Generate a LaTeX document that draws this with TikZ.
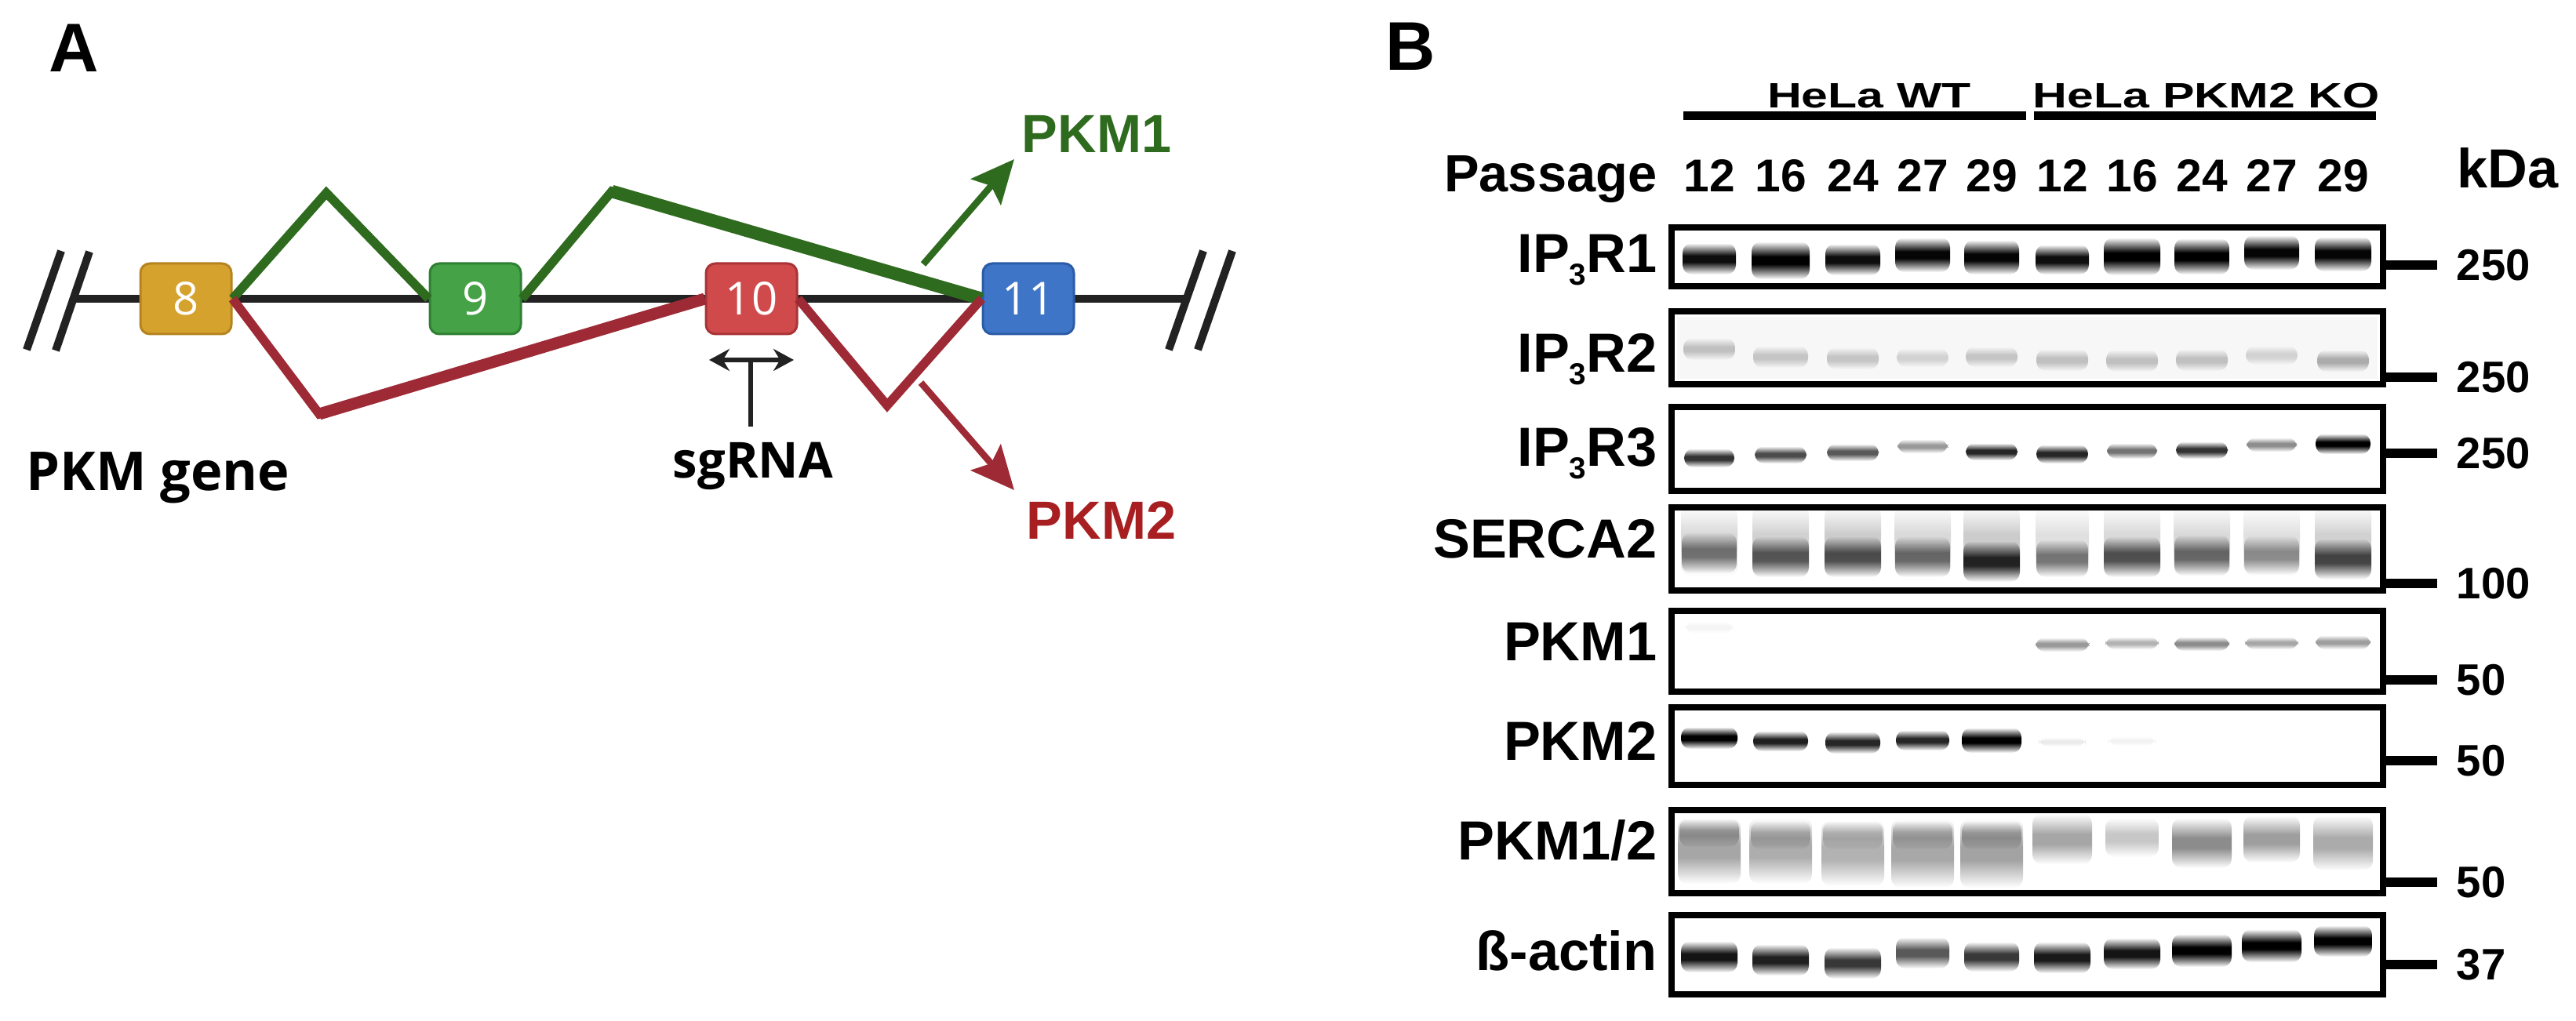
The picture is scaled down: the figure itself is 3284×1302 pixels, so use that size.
\documentclass[tikz,border=0pt]{standalone}
\usepackage{fontspec}
\setmainfont{Liberation Sans}
\newfontfamily\osans{Open Sans}
\usepackage{tikz}
\usetikzlibrary{arrows.meta,positioning}

\definecolor{geneline}{HTML}{222222}
\definecolor{pkmgreen}{HTML}{2F6B1E}
\definecolor{pkmred}{HTML}{9E2A35}
\definecolor{pkmtwo}{HTML}{A81F22}
\definecolor{exgold}{HTML}{D6A22E}
\definecolor{exgoldd}{HTML}{B5841F}
\definecolor{exgreen}{HTML}{45A246}
\definecolor{exgreend}{HTML}{2F8033}
\definecolor{exred}{HTML}{D04A4C}
\definecolor{exredd}{HTML}{A93336}
\definecolor{exblue}{HTML}{3F75C7}
\definecolor{exblued}{HTML}{2B5CA8}

\pgfdeclareverticalshading[bandink]{bandv}{100bp}{color(0bp)=(white); color(25bp)=(white); color(45bp)=(bandink); color(55bp)=(bandink); color(75bp)=(white); color(100bp)=(white)}
\newcommand{\band}[5]{\colorlet{bandink}{black!#5}\shade[shading=bandv,rounded corners=1.2mm] (#1,#2) ++({-#3},{-#4}) rectangle ++({2*#3},{2*#4});}
\newcommand{\fsz}[1]{\fontsize{#1}{#1}\selectfont}
\newcommand{\iptr}[1]{IP\raisebox{-4.5pt}{\fsz{11}3}R#1}

\begin{document}
\begin{tikzpicture}[x=0.1mm,y=-0.1mm]%
\useasboundingbox (0,0) rectangle (3284,1302);%
\tikzstyle{slash}=[line width=1mm,color=geneline] %%
\tikzstyle{gthin}=[line width=1.15mm,color=pkmgreen] %%
\tikzstyle{gthick}=[line width=1.65mm,color=pkmgreen] %%
\tikzstyle{rthin}=[line width=1.15mm,color=pkmred] %%
\tikzstyle{rthick}=[line width=1.5mm,color=pkmred] %%
\tikzstyle{lbl}=[inner sep=0pt] %%
%% panel A
\node[lbl,font=\bfseries\fsz{25},anchor=base west] (lblA) at (62,92) {A}; %%
\coordinate (gL) at (95,381); %%
\coordinate (gR) at (1513,381); %%
\coordinate (sl1a) at (34,446); %%
\coordinate (sl1b) at (78,320); %%
\coordinate (sl2a) at (71,447); %%
\coordinate (sl2b) at (114,321); %%
\coordinate (sr1a) at (1490,446); %%
\coordinate (sr1b) at (1534,320); %%
\coordinate (sr2a) at (1527,446); %%
\coordinate (sr2b) at (1571,320); %%
\draw[slash] (gL) -- (gR); %%
\draw[slash] (sl1a) -- (sl1b); %%
\draw[slash] (sl2a) -- (sl2b); %%
\draw[slash] (sr1a) -- (sr1b); %%
\draw[slash] (sr2a) -- (sr2b); %%
\begin{scope}[rounded corners=1.2mm,minimum width=11.6mm,minimum height=9mm,line width=.3mm]%
\tikzstyle{every node}=[draw,text=white,font=\osans\fsz{16.5}] %%
\node[fill=exgold,draw=exgoldd] (e8) at (237,381) {8}; %%
\node[fill=exgreen,draw=exgreend] (e9) at (606,381) {9}; %%
\node[fill=exred,draw=exredd] (e10) at (958,381) {10}; %%
\node[fill=exblue,draw=exblued] (e11) at (1311,381) {11}; %%
\end{scope}
\coordinate (gp1) at (416,246); %%
\coordinate (gp2) at (780,244); %%
\coordinate (rp1) at (407,528); %%
\coordinate (rp2) at (1131,517); %%
\draw[gthin] (e8.east) -- (gp1) -- (e9.west); %%
\draw[gthin] (e9.east) -- (gp2) -- (e11.west); %%
\draw[gthick] (gp2) -- (e11.west); %%
\draw[rthin] (e8.east) -- (rp1) -- (e10.west); %%
\draw[rthick] (rp1) -- (e10.west); %%
\draw[rthin] (e10.east) -- (rp2) -- (e11.west); %%
\coordinate (a1s) at (1177,337); %%
\coordinate (a1e) at (1293,203); %%
\coordinate (a2s) at (1174,488); %%
\coordinate (a2e) at (1293,625); %%
\draw[line width=.85mm,color=pkmgreen,-{Stealth[length=5.5mm,width=5mm,inset=1mm]}] (a1s) -- (a1e); %%
\draw[line width=.85mm,color=pkmred,-{Stealth[length=5.5mm,width=5mm,inset=1mm]}] (a2s) -- (a2e); %%
\node[font=\bfseries\fsz{19.5},color=pkmgreen,anchor=base] (pkm1) at (1398,195) {PKM1}; %%
\node[font=\bfseries\fsz{19.5},color=pkmtwo,anchor=base] (pkm2) at (1404,688) {PKM2}; %%
\coordinate (sgL) at (904,459); %%
\coordinate (sgR) at (1012,459); %%
\coordinate (sgT) at (957,459); %%
\coordinate (sgB) at (957,544); %%
\draw[line width=.6mm,color=geneline,{Stealth[length=2.6mm,width=2.8mm]}-{Stealth[length=2.6mm,width=2.8mm]}] (sgL) -- (sgR); %%
\draw[line width=.6mm,color=geneline] (sgT) -- (sgB); %%
\node[font=\osans\bfseries\fsz{18},anchor=base] (sgrna) at (960,610) {sgRNA}; %%
\node[lbl,font=\osans\bfseries\fsz{19.5},anchor=base west] (pkmgene) at (33,626) {PKM gene}; %%
%% panel B
\node[lbl,font=\bfseries\fsz{25},anchor=base west] (lblB) at (1766,90) {B}; %%
\node[font=\bfseries\fsz{12.8},anchor=base] (wt) at (2383,138) {\scalebox{1.35}[1]{HeLa WT}}; %%
\node[font=\bfseries\fsz{12.8},anchor=base] (ko) at (2813,138) {\scalebox{1.35}[1]{HeLa PKM2 KO}}; %%
\coordinate (wtL) at (2146,148); %%
\coordinate (wtR) at (2583,148); %%
\coordinate (koL) at (2593,148); %%
\coordinate (koR) at (3029,148); %%
\draw[line width=1.1mm] (wtL) -- (wtR); %%
\draw[line width=1.1mm] (koL) -- (koR); %%
\node[lbl,font=\bfseries\fsz{19},anchor=base east] (pas) at (2113,245) {Passage}; %%
\begin{scope}
\tikzstyle{every node}=[font=\bfseries\fsz{16.7},anchor=base] %%
\node (n1) at (2179,245) {12}; %%
\node (n2) at (2270,245) {16}; %%
\node (n3) at (2362,245) {24}; %%
\node (n4) at (2451,245) {27}; %%
\node (n5) at (2539,245) {29}; %%
\node (n6) at (2629,245) {12}; %%
\node (n7) at (2718,245) {16}; %%
\node (n8) at (2807,245) {24}; %%
\node (n9) at (2896,245) {27}; %%
\node (n10) at (2987,245) {29}; %%
\end{scope}
\node[lbl,font=\bfseries\fsz{20},anchor=base west] (kda) at (3132,240) {kDa}; %%
\fill[black!3] (2138,404) rectangle (3031,483); %%
\begin{scope}[blend mode=multiply]
%% IP3R1
\band{2179}{330}{34}{20}{95} %%
\band{2270}{332}{37}{24}{100} %%
\band{2362}{331}{35}{20}{95} %%
\band{2451}{325}{35}{22}{98} %%
\band{2539}{328}{35}{22}{98} %%
\band{2629}{331}{34}{19}{95} %%
\band{2718}{327}{36}{24}{100} %%
\band{2807}{327}{35}{23}{100} %%
\band{2896}{322}{35}{22}{98} %%
\band{2987}{324}{36}{22}{98} %%
%% IP3R2
\band{2179}{445}{33}{14}{22} %%
\band{2270}{455}{35}{14}{20} %%
\band{2362}{457}{33}{14}{20} %%
\band{2451}{456}{33}{12}{15} %%
\band{2539}{455}{33}{13}{20} %%
\band{2629}{459}{33}{14}{22} %%
\band{2718}{460}{33}{14}{22} %%
\band{2807}{459}{33}{14}{22} %%
\band{2896}{453}{33}{12}{15} %%
\band{2987}{460}{33}{14}{30} %%
%% IP3R3
\band{2179}{584}{32}{12}{80} %%
\band{2270}{580}{33}{11}{70} %%
\band{2362}{577}{33}{11}{65} %%
\band{2451}{569}{32}{9}{40} %%
\band{2539}{576}{33}{11}{85} %%
\band{2629}{579}{33}{12}{85} %%
\band{2718}{575}{32}{10}{55} %%
\band{2807}{574}{33}{11}{80} %%
\band{2896}{567}{32}{9}{45} %%
\band{2987}{566}{35}{13}{100} %%
%% SERCA2
\band{2179}{690}{36}{45}{15} %%
\band{2270}{690}{36}{45}{18} %%
\band{2362}{690}{36}{45}{20} %%
\band{2451}{690}{36}{45}{15} %%
\band{2539}{690}{36}{45}{20} %%
\band{2629}{690}{34}{45}{12} %%
\band{2718}{690}{36}{45}{15} %%
\band{2807}{690}{36}{45}{15} %%
\band{2896}{690}{36}{45}{12} %%
\band{2987}{690}{36}{45}{18} %%
\band{2179}{705}{35}{26}{50} %%
\band{2270}{710}{36}{26}{62} %%
\band{2362}{710}{36}{26}{65} %%
\band{2451}{710}{35}{26}{55} %%
\band{2539}{716}{36}{26}{85} %%
\band{2629}{712}{33}{24}{50} %%
\band{2718}{710}{36}{26}{65} %%
\band{2807}{708}{35}{26}{55} %%
\band{2896}{708}{35}{25}{40} %%
\band{2987}{713}{36}{26}{70} %%
%% PKM1
\band{2179}{800}{30}{8}{4} %%
\band{2629}{822}{34}{9}{40} %%
\band{2718}{820}{34}{8}{30} %%
\band{2807}{821}{35}{9}{45} %%
\band{2896}{820}{34}{8}{35} %%
\band{2987}{819}{35}{9}{38} %%
%% PKM2
\band{2179}{941}{36}{14}{100} %%
\band{2270}{945}{35}{13}{88} %%
\band{2362}{947}{35}{14}{85} %%
\band{2451}{944}{34}{13}{85} %%
\band{2539}{944}{38}{16}{100} %%
\band{2629}{946}{30}{6}{8} %%
\band{2718}{945}{30}{6}{5} %%
%% PKM1/2
\band{2179}{1085}{40}{42}{35} %%
\band{2270}{1085}{40}{42}{32} %%
\band{2362}{1088}{40}{42}{30} %%
\band{2451}{1088}{40}{44}{34} %%
\band{2539}{1088}{40}{44}{36} %%
\band{2179}{1062}{38}{18}{30} %%
\band{2270}{1065}{38}{18}{22} %%
\band{2362}{1065}{38}{18}{20} %%
\band{2451}{1065}{38}{18}{25} %%
\band{2539}{1065}{38}{18}{28} %%
\band{2629}{1070}{38}{32}{35} %%
\band{2718}{1068}{34}{25}{22} %%
\band{2807}{1075}{38}{32}{45} %%
\band{2896}{1070}{36}{30}{38} %%
\band{2987}{1075}{38}{35}{33} %%
%% beta-actin
\band{2179}{1220}{36}{20}{92} %%
\band{2270}{1224}{36}{20}{88} %%
\band{2362}{1228}{36}{20}{78} %%
\band{2451}{1215}{34}{20}{65} %%
\band{2539}{1220}{35}{19}{78} %%
\band{2629}{1221}{36}{20}{90} %%
\band{2718}{1216}{36}{20}{92} %%
\band{2807}{1212}{38}{21}{100} %%
\band{2896}{1206}{38}{21}{100} %%
\band{2987}{1200}{37}{20}{100} %%
\end{scope}
\begin{scope}[line width=.8mm,minimum width=90.7mm,inner sep=0pt]%
\tikzstyle{every node}=[draw] %%
\node[minimum height=7.5mm] (b1) at (2584.5,327.5) {}; %%
\node[minimum height=9.3mm] (b2) at (2584.5,443.5) {}; %%
\node[minimum height=10.7mm] (b3) at (2584.5,572.5) {}; %%
\node[minimum height=10.6mm] (b4) at (2584.5,700) {}; %%
\node[minimum height=10.3mm] (b5) at (2584.5,830.5) {}; %%
\node[minimum height=9.9mm] (b6) at (2584.5,951.5) {}; %%
\node[minimum height=10.6mm] (b7) at (2584.5,1086) {}; %%
\node[minimum height=10.1mm] (b8) at (2584.5,1217.5) {}; %%
\end{scope}
\begin{scope}
\tikzstyle{every node}=[lbl,font=\bfseries\fsz{20},anchor=base east] %%
\node (r1) at (2113,348) {\iptr{1}}; %%
\node (r2) at (2113,475) {\iptr{2}}; %%
\node (r3) at (2113,595) {\iptr{3}}; %%
\node (r4) at (2113,712) {SERCA2}; %%
\node (r5) at (2113,843) {PKM1}; %%
\node (r6) at (2113,970) {PKM2}; %%
\node (r7) at (2113,1097) {PKM1/2}; %%
\node (r8) at (2113,1238) {ß-actin}; %%
\end{scope}
\coordinate (k1) at (3107,338); %%
\coordinate (k2) at (3107,481); %%
\coordinate (k3) at (3107,578); %%
\coordinate (k4) at (3107,744); %%
\coordinate (k5) at (3107,867); %%
\coordinate (k6) at (3107,970); %%
\coordinate (k7) at (3107,1125); %%
\coordinate (k8) at (3107,1230); %%
\begin{scope}[line width=1.2mm]
\draw (b1.east |- k1) -- (k1); %%
\draw (b2.east |- k2) -- (k2); %%
\draw (b3.east |- k3) -- (k3); %%
\draw (b4.east |- k4) -- (k4); %%
\draw (b5.east |- k5) -- (k5); %%
\draw (b6.east |- k6) -- (k6); %%
\draw (b7.east |- k7) -- (k7); %%
\draw (b8.east |- k8) -- (k8); %%
\end{scope}
\begin{scope}
\tikzstyle{every node}=[lbl,font=\bfseries\fsz{16}] %%
\node[right=2.4mm of k1] (m1) {250}; %%
\node[right=2.4mm of k2] (m2) {250}; %%
\node[right=2.4mm of k3] (m3) {250}; %%
\node[right=2.4mm of k4] (m4) {100}; %%
\node[right=2.4mm of k5] (m5) {50}; %%
\node[right=2.4mm of k6] (m6) {50}; %%
\node[right=2.4mm of k7] (m7) {50}; %%
\node[right=2.4mm of k8] (m8) {37}; %%
\end{scope}
\end{tikzpicture}
\end{document}
